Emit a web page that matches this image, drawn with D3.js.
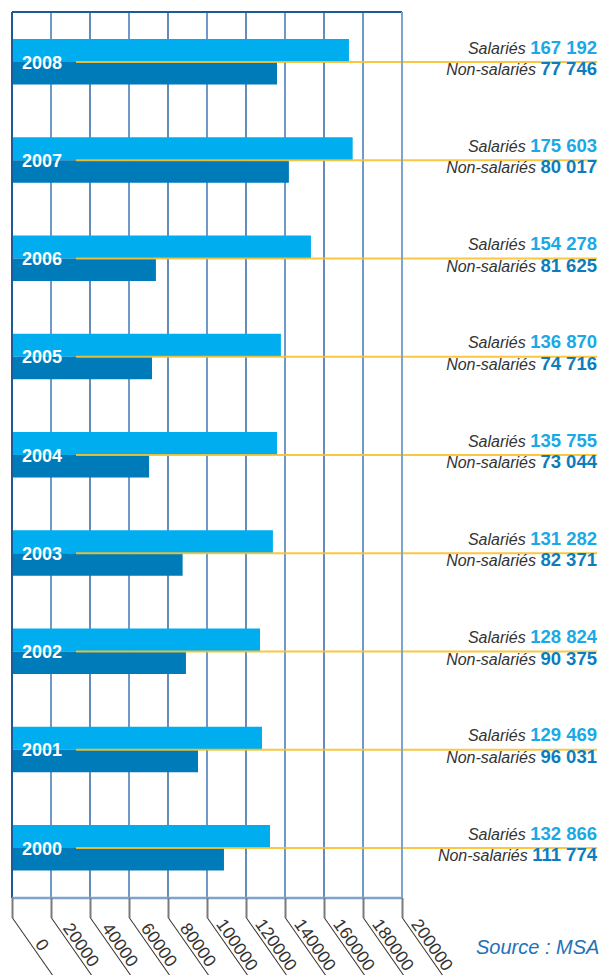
<!DOCTYPE html>
<html>
<head>
<meta charset="utf-8">
<script src="https://cdn.jsdelivr.net/npm/d3@7"></script>
<style>
  body { margin: 0; background: #fff; }
  svg { display: block; font-family: "Liberation Sans", Arial, Helvetica, sans-serif; }
</style>
</head>
<body>
<svg id="chart"></svg>
<script>
// years top to bottom
const years = ["2008", "2007", "2006", "2005", "2004", "2003", "2002", "2001", "2000"];
// values printed on the right
const salaries = [167192, 175603, 154278, 136870, 135755, 131282, 128824, 129469, 132866];
const nonSalaries = [77746, 80017, 81625, 74716, 73044, 82371, 90375, 96031, 111774];
// bar lengths as they are drawn in the picture (they do not always match the printed values)
const salariesBar = [172800, 174700, 153300, 137900, 135900, 133800, 127200, 128200, 132300];
const nonSalariesBar = [135900, 142000, 73800, 71800, 70300, 87500, 89200, 95400, 108700];
const tickValues = [0, 20000, 40000, 60000, 80000, 100000, 120000, 140000, 160000, 180000, 200000];
const sourceText = "Source : MSA";

const WIDTH = 599, HEIGHT = 975;
const plotLeft = 12, plotRight = 402, plotTop = 12, plotBottom = 898;
const barH = 23;

const fr = d3.formatLocale({ decimal: ",", thousands: " ", grouping: [3], currency: ["", " €"] });
const fmt = fr.format(",d");

const x = d3.scaleLinear().domain([0, 200000]).range([plotLeft, plotRight]);
const y = d3.scalePoint().domain(years).range([62, 848]);

const svg = d3.select("#chart").attr("width", WIDTH).attr("height", HEIGHT);

// vertical grid
svg.append("g").selectAll("line")
  .data(tickValues)
  .enter().append("line")
  .attr("x1", d => x(d)).attr("x2", d => x(d))
  .attr("y1", plotTop).attr("y2", plotBottom)
  .attr("stroke", (d, i) => (i % 2 === 1 ? "#6f99c6" : "#215d9b"))
  .attr("stroke-width", (d, i) => (i % 2 === 1 ? 2 : 1.4));

const rows = years.map((yr, i) => ({
  year: yr, sal: salaries[i], non: nonSalaries[i], salBar: salariesBar[i], nonBar: nonSalariesBar[i]
}));

// bars
svg.append("g").selectAll("rect")
  .data(rows)
  .enter().append("rect")
  .attr("x", x(0))
  .attr("y", d => y(d.year) - barH)
  .attr("width", d => x(d.salBar) - x(0))
  .attr("height", barH)
  .attr("fill", "#00aeef");

svg.append("g").selectAll("rect")
  .data(rows)
  .enter().append("rect")
  .attr("x", x(0))
  .attr("y", d => y(d.year))
  .attr("width", d => x(d.nonBar) - x(0))
  .attr("height", barH - 0.5)
  .attr("fill", "#007bba");

// yellow leader lines
svg.append("g").selectAll("line")
  .data(rows)
  .enter().append("line")
  .attr("x1", 76).attr("x2", 597)
  .attr("y1", d => y(d.year)).attr("y2", d => y(d.year))
  .attr("stroke", "#f9c12e")
  .attr("stroke-opacity", 0.9)
  .attr("stroke-width", 2);

// frame
svg.append("line").attr("x1", plotLeft).attr("x2", plotRight).attr("y1", plotTop).attr("y2", plotTop)
  .attr("stroke", "#1d5a98").attr("stroke-width", 2);
svg.append("line").attr("x1", plotLeft).attr("x2", plotLeft).attr("y1", plotTop).attr("y2", plotBottom)
  .attr("stroke", "#1d5a98").attr("stroke-width", 2);
svg.append("line").attr("x1", plotRight).attr("x2", plotRight).attr("y1", plotTop).attr("y2", plotBottom)
  .attr("stroke", "#7fa4cc").attr("stroke-width", 2);
svg.append("line").attr("x1", plotLeft).attr("x2", plotRight).attr("y1", plotBottom).attr("y2", plotBottom)
  .attr("stroke", "#7fa4cc").attr("stroke-width", 2.5);

// year labels inside the bars
svg.append("g").selectAll("text")
  .data(rows)
  .enter().append("text")
  .attr("x", 22)
  .attr("y", d => y(d.year) + 6.5)
  .attr("fill", "#fff")
  .attr("font-size", 18)
  .attr("font-weight", "bold")
  .text(d => d.year);

// right hand labels
const lab = svg.append("g").attr("text-anchor", "end");

const salText = lab.selectAll("text.sal")
  .data(rows)
  .enter().append("text")
  .attr("class", "sal")
  .attr("x", 597)
  .attr("y", d => y(d.year) - 8.5);
salText.append("tspan").attr("font-style", "italic").attr("font-size", 16).attr("fill", "#333").text("Salariés ");
salText.append("tspan").attr("font-weight", "bold").attr("font-size", 18.5).attr("fill", "#1aa9e6").text(d => fmt(d.sal));

const nonText = lab.selectAll("text.non")
  .data(rows)
  .enter().append("text")
  .attr("class", "non")
  .attr("x", 597)
  .attr("y", d => y(d.year) + 13);
nonText.append("tspan").attr("font-style", "italic").attr("font-size", 16).attr("fill", "#333").text("Non-salariés ");
nonText.append("tspan").attr("font-weight", "bold").attr("font-size", 18.5).attr("fill", "#0b7dbf").text(d => fmt(d.non));

// bottom axis with slanted labels
const axis = svg.append("g")
  .attr("transform", "translate(0," + plotBottom + ")")
  .call(d3.axisBottom(x).tickValues(tickValues).tickSize(20).tickFormat(d3.format("d")));

axis.select(".domain").remove();
axis.selectAll(".tick line").attr("stroke", "#7a7a7a").attr("stroke-width", 2);
axis.selectAll(".tick")
  .append("line")
  .attr("transform", "translate(0,20) rotate(55)")
  .attr("x1", 0).attr("x2", 110)
  .attr("y1", 0).attr("y2", 0)
  .attr("stroke", "#333")
  .attr("stroke-width", 1);
axis.selectAll(".tick text")
  .attr("transform", "translate(0,20) rotate(55)")
  .attr("x", 39)
  .attr("y", -3)
  .attr("dy", null)
  .attr("text-anchor", "middle")
  .attr("fill", "#333")
  .attr("font-size", 17.5)
  .attr("font-family", "Liberation Sans, Arial, sans-serif");

// source
svg.append("text")
  .attr("x", 476)
  .attr("y", 954)
  .attr("font-size", 20)
  .attr("font-style", "italic")
  .attr("fill", "#2372b8")
  .text(sourceText);
</script>
</body>
</html>
